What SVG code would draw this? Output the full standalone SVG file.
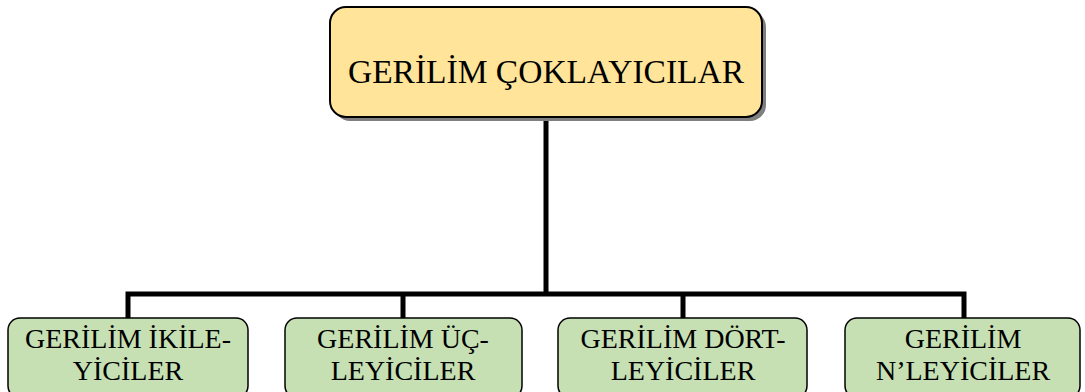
<svg xmlns="http://www.w3.org/2000/svg" width="1085" height="392" viewBox="0 0 1085 392">
<style>
.t{font-family:"Liberation Serif","Times New Roman",serif;fill:#000;text-anchor:middle}
.top{fill:#FFE499;stroke:#000;stroke-width:2}
.sh{fill:#7f7f7f}
.leaf{fill:#C6E0B4;stroke:#000;stroke-width:1.5}
.c{fill:none;stroke:#000;stroke-width:5}
</style>
<rect width="1085" height="392" fill="#fff"/>
<g id="connectors">
<path class="c" d="M546 119 V294"/>
<path class="c" d="M128 318 V294 H964 V318"/>
<path class="c" d="M403 294 V318"/>
<path class="c" d="M683 294 V318"/>
</g>
<g id="root">
<rect class="sh" x="334" y="11" width="432" height="110" rx="16"/>
<rect class="top" x="330" y="7" width="432" height="110" rx="16"/>
<text class="t" x="546" y="83" font-size="33.5">GERİLİM ÇOKLAYICILAR</text>
</g>
<g id="n1">
<rect class="leaf" x="8" y="318" width="240" height="80" rx="12"/>
<text class="t" x="128" y="348" font-size="28">GERİLİM İKİLE-</text>
<text class="t" x="128" y="380" font-size="28">YİCİLER</text>
</g>
<g id="n2">
<rect class="leaf" x="285" y="318" width="237" height="80" rx="12"/>
<text class="t" x="403" y="348" font-size="28">GERİLİM ÜÇ-</text>
<text class="t" x="403" y="380" font-size="28">LEYİCİLER</text>
</g>
<g id="n3">
<rect class="leaf" x="558" y="318" width="249" height="80" rx="12"/>
<text class="t" x="683" y="348" font-size="28">GERİLİM DÖRT-</text>
<text class="t" x="683" y="380" font-size="28">LEYİCİLER</text>
</g>
<g id="n4">
<rect class="leaf" x="845" y="318" width="235" height="80" rx="12"/>
<text class="t" x="963" y="348" font-size="28">GERİLİM</text>
<text class="t" x="963" y="380" font-size="28">N’LEYİCİLER</text>
</g>
</svg>
